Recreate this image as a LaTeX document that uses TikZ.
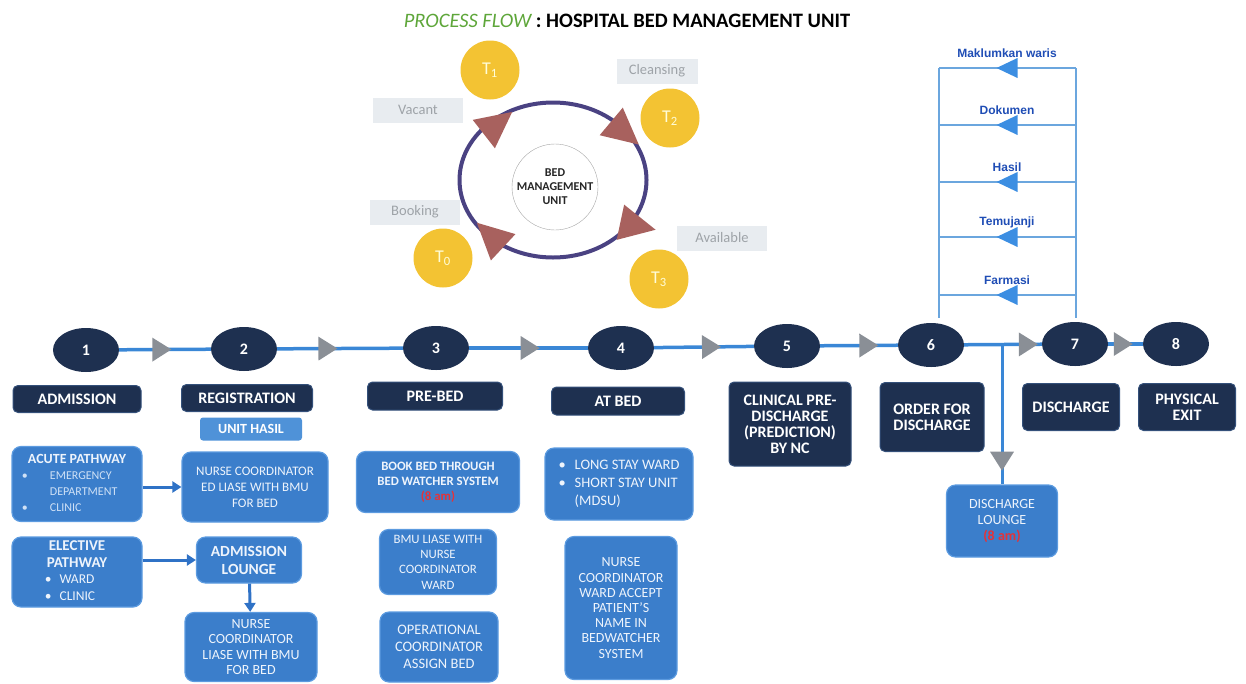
\documentclass[tikz,border=0pt]{standalone}
\usepackage{fontspec}
\setmainfont{Carlito}
\newfontfamily\arialfont{Liberation Sans}
\usetikzlibrary{shapes.geometric,arrows.meta,decorations.markings,positioning}

\definecolor{navy}{HTML}{1E3050}
\definecolor{navyedge}{HTML}{34507A}
\definecolor{boxblue}{HTML}{3B7ECB}
\definecolor{boxedge}{HTML}{5C9BE0}
\definecolor{hasilblue}{HTML}{4F92D8}
\definecolor{boxtext}{HTML}{EEF4FC}
\definecolor{softtext}{HTML}{CFE1F6}
\definecolor{lineblue}{HTML}{3A87D6}
\definecolor{arrowblue}{HTML}{2F72C6}
\definecolor{markgrey}{HTML}{8A8F96}
\definecolor{ladderblue}{HTML}{6BA6DE}
\definecolor{ladderhead}{HTML}{3C8EE2}
\definecolor{laddertext}{HTML}{1F4DB5}
\definecolor{tyellow}{HTML}{F3C333}
\definecolor{tagfill}{HTML}{E8ECF0}
\definecolor{tagtext}{HTML}{9EA3A8}
\definecolor{cyclering}{HTML}{4A4282}
\definecolor{headred}{HTML}{A8615E}
\definecolor{titlegreen}{HTML}{5EA63A}
\definecolor{amred}{HTML}{E53238}

\tikzset{
	stage/.style={ellipse,fill=navy,text=white,font=\bfseries\fontsize{16}{18}\selectfont,minimum width=66pt,minimum height=44pt,inner sep=0pt},
	stagebox/.style={rounded corners=5pt,fill=navy,draw=navyedge,line width=1pt,text=white,align=center,inner sep=2pt,font=\bfseries\fontsize{16}{16}\selectfont},
	taskbox/.style={rounded corners=9pt,fill=boxblue,draw=boxedge,line width=1.2pt,text=boxtext,align=center,inner sep=2pt},
	hasilbox/.style={rounded corners=3pt,fill=hasilblue,text=white,font=\bfseries\fontsize{14}{16}\selectfont,inner sep=2pt},
	timeline/.style={draw=lineblue,line width=3.5pt},
	flowmark/.style={decoration={markings,mark=at position #1 with {\fill[markgrey] (-9pt,-12pt) -- (10pt,0pt) -- (-9pt,12pt) -- cycle;}},postaction={decorate}},
	link/.style={draw=arrowblue,line width=3pt,-{Triangle[length=9pt,width=11pt]}},
	rung/.style={draw=ladderblue,line width=1.5pt},
	rungmark/.style={decoration={markings,mark=at position #1 with {\fill[ladderhead] (-10pt,-10pt) -- (11pt,0pt) -- (-10pt,10pt) -- cycle;}},postaction={decorate}},
	rungtext/.style={text=laddertext,font=\arialfont\bfseries\fontsize{12}{14}\selectfont},
	ring/.style={ellipse,draw=cyclering,line width=4pt,minimum width=187pt,minimum height=155pt},
	hub/.style={circle,draw=gray!70,fill=white,minimum size=86pt,inner sep=0pt,align=center,text=black!85,font=\bfseries\fontsize{12}{14}\selectfont},
	tcircle/.style={circle,fill=tyellow,minimum size=59pt,text=yellow!15,font=\fontsize{18}{20}\selectfont},
	tag/.style={fill=tagfill,text=tagtext,minimum width=90pt,minimum height=25pt,font=\fontsize{14.5}{16}\selectfont},
	cyclehead/.pic={\fill[headred] (18pt,0pt) -- (-18pt,18pt) -- (-18pt,-18pt) -- cycle;}
}

\begin{document}
\begin{tikzpicture}[x=1pt,y=-1pt]
	\useasboundingbox (0,0) rectangle (1246,683);
	\node [font=\bfseries\fontsize{20.5}{24}\selectfont] (title) at (627,21) {{\mdseries\itshape\color{titlegreen}PROCESS FLOW} : HOSPITAL BED MANAGEMENT UNIT};

	% bed cycle
	\node [ring] (ring) at (553,180) {};
	\node [hub] (hub) at (555,187) {BED\\MANAGEMENT\\UNIT};
	\pic [rotate=38] at (498,123) {cyclehead};
	\pic [rotate=-40] at (625,133) {cyclehead};
	\pic [rotate=-12] at (638,226) {cyclehead};
	\pic [rotate=137] at (490,235) {cyclehead};
	\node [tcircle] (t1) at (490,70) {T\textsubscript{1}};
	\node [tcircle] (t2) at (670,118) {T\textsubscript{2}};
	\node [tcircle] (t0) at (443,258) {T\textsubscript{0}};
	\node [tcircle] (t3) at (659,279) {T\textsubscript{3}};
	\node [tag] (vacant) at (418,110) {Vacant};
	\node [tag,minimum width=81pt] (cleansing) at (657,71) {Cleansing};
	\node [tag] (booking) at (415,212) {Booking};
	\node [tag] (available) at (722,238) {Available};

	% feedback ladder between 6 and 7
	\coordinate (ladL) at (939,318);
	\coordinate (ladR) at (1076,318);
	\foreach \y/\txt [count=\i] in {68/Maklumkan waris,125/Dokumen,182/Hasil,237/Temujanji,295/Farmasi}{
		\coordinate (rr\i) at (1076,\y);
		\coordinate (rl\i) at (939,\y);
		\draw [rung,rungmark=0.5] (rr\i) -- (rl\i);
		\node [rungtext] (note\i) at (1007,\y-15) {\txt};
	}
	\draw [rung] (rl1) -- (ladL);
	\draw [rung] (rr1) -- (ladR);

	% stages
	\node [stage] (s1) at (86,350) {1};
	\node [stage] (s2) at (244,349) {2};
	\node [stage] (s3) at (436,348) {3};
	\node [stage] (s4) at (621,348) {4};
	\node [stage] (s5) at (787,346) {5};
	\node [stage] (s6) at (931,345) {6};
	\node [stage] (s7) at (1075,344) {7};
	\node [stage] (s8) at (1176,344) {8};
	\draw [timeline,flowmark=0.46] (s1) -- (s2);
	\draw [timeline,flowmark=0.40] (s2) -- (s3);
	\draw [timeline,flowmark=0.51] (s3) -- (s4);
	\draw [timeline,flowmark=0.57] (s4) -- (s5);
	\draw [timeline,flowmark=0.62] (s5) -- (s6);
	\draw [timeline,flowmark=0.82] (s6) -- (s7);
	\draw [timeline,flowmark=0.42] (s7) -- (s8);

	\node [stagebox,minimum width=128pt,minimum height=27pt] (admission) at (77,399) {ADMISSION};
	\node [stagebox,minimum width=131pt,minimum height=27pt] (registration) at (247,398) {REGISTRATION};
	\node [hasilbox,minimum width=102pt,minimum height=23pt] (unithasil) at (251,429) {UNIT HASIL};
	\node [stagebox,minimum width=135pt,minimum height=28pt] (prebed) at (435,396) {PRE-BED};
	\node [stagebox,minimum width=133pt,minimum height=28pt] (atbed) at (618,401) {AT BED};
	\node [stagebox,minimum width=122pt,minimum height=84pt] (predischarge) at (790,424) {CLINICAL PRE-\\DISCHARGE\\(PREDICTION)\\BY NC};
	\node [stagebox,minimum width=104pt,minimum height=69pt] (order) at (932,417) {ORDER FOR\\DISCHARGE};
	\node [stagebox,minimum width=97pt,minimum height=47pt] (discharge) at (1071,407) {DISCHARGE};
	\node [stagebox,minimum width=97pt,minimum height=47pt] (exit) at (1187,407) {PHYSICAL\\EXIT};

	% admission and registration
	\node [taskbox,minimum width=130pt,minimum height=75pt,font=\fontsize{12}{16}\selectfont] (acute) at (77,484) {\begin{tabular}{@{}l@{\hspace{22pt}}l@{}}\multicolumn{2}{c}{\fontsize{14}{16}\selectfont\bfseries ACUTE PATHWAY}\\\color{softtext}\textbullet&\color{softtext}EMERGENCY\\&\color{softtext}DEPARTMENT\\\color{softtext}\textbullet&\color{softtext}CLINIC\end{tabular}};
	\node [taskbox,minimum width=146pt,minimum height=70pt,font=\fontsize{13}{16}\selectfont] (nurseed) at (255,487) {NURSE COORDINATOR\\ED LIASE WITH BMU\\FOR BED};
	\node [taskbox,minimum width=130pt,minimum height=70pt,font=\fontsize{13.5}{16.5}\selectfont] (elective) at (77,572) {\begin{tabular}{@{}l@{\hspace{8pt}}l@{}}\multicolumn{2}{c}{\fontsize{15}{16.5}\selectfont\bfseries ELECTIVE}\\\multicolumn{2}{c}{\fontsize{15}{16.5}\selectfont\bfseries PATHWAY}\\\hspace{4pt}\textbullet&WARD\\\hspace{4pt}\textbullet&CLINIC\end{tabular}};
	\node [taskbox,minimum width=105pt,minimum height=46pt,font=\bfseries\fontsize{15.5}{18}\selectfont] (lounge) at (249,560) {ADMISSION\\LOUNGE};
	\node [taskbox,minimum width=132pt,minimum height=69pt,font=\fontsize{14}{15.5}\selectfont] (nurseliase) at (251,647) {NURSE\\COORDINATOR\\LIASE WITH BMU\\FOR BED};
	\draw [link] (acute.east |- nurseed) -- (nurseed.west);
	\draw [link] (elective.east |- lounge) -- (lounge.west);
	\draw [link] (lounge) -- (nurseliase);

	% pre-bed
	\node [taskbox,minimum width=163pt,minimum height=61pt,font=\bfseries\fontsize{12.8}{15}\selectfont] (bookbed) at (438,482) {BOOK BED THROUGH\\BED WATCHER SYSTEM\\{\color{amred}(8 am)}};
	\node [taskbox,minimum width=117pt,minimum height=65pt,font=\fontsize{12.8}{15.3}\selectfont] (bmuliase) at (438,562) {BMU LIASE WITH\\NURSE\\COORDINATOR\\WARD};
	\node [taskbox,minimum width=118pt,minimum height=70pt,font=\fontsize{14.5}{17}\selectfont] (opcoord) at (439,647) {OPERATIONAL\\COORDINATOR\\ASSIGN BED};

	% at bed
	\node [taskbox,minimum width=148pt,minimum height=72pt,font=\fontsize{14.5}{18}\selectfont] (stay) at (619,484) {\begin{tabular}{@{}l@{\hspace{9pt}}l@{}}\textbullet&LONG STAY WARD\\\textbullet&SHORT STAY UNIT\\&(MDSU)\end{tabular}};
	\node [taskbox,minimum width=112pt,minimum height=143pt,font=\fontsize{14}{15.2}\selectfont] (accept) at (621,608) {NURSE\\COORDINATOR\\WARD ACCEPT\\PATIENT'S\\NAME IN\\BEDWATCHER\\SYSTEM};

	% discharge lounge
	\node [taskbox,minimum width=111pt,minimum height=72pt,font=\fontsize{14}{16}\selectfont] (dlounge) at (1002,521) {DISCHARGE\\LOUNGE\\{\color{amred}\bfseries(8 am)}};
	\coordinate (split) at (1002,345);
	\draw [timeline,line width=3pt,flowmark=0.83] (split) -- (dlounge.north);
\end{tikzpicture}
\end{document}
